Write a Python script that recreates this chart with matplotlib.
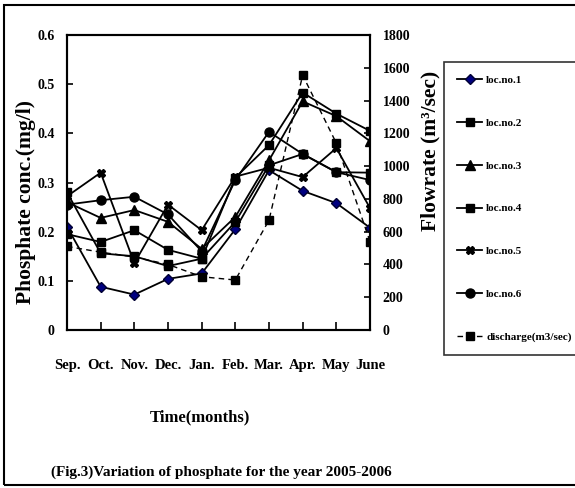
import matplotlib
matplotlib.use("Agg")
import matplotlib.pyplot as plt
from matplotlib.patches import Rectangle

plt.rcParams['font.family'] = 'Liberation Serif'
plt.rcParams['font.weight'] = 'bold'

# months on the x axis
months = ['Sep.', 'Oct.', 'Nov.', 'Dec.', 'Jan.', 'Feb.', 'Mar.', 'Apr.', 'May', 'June']

# phosphate (mg/l) at each location
loc1 = [0.210, 0.088, 0.072, 0.104, 0.115, 0.205, 0.325, 0.283, 0.258, 0.208]
loc2 = [0.195, 0.179, 0.203, 0.163, 0.145, 0.220, 0.335, 0.358, 0.321, 0.320]
loc3 = [0.260, 0.228, 0.244, 0.220, 0.165, 0.230, 0.345, 0.465, 0.435, 0.384]
loc4 = [0.280, 0.156, 0.150, 0.130, 0.145, 0.310, 0.376, 0.483, 0.440, 0.405]
loc5 = [0.272, 0.320, 0.136, 0.255, 0.203, 0.312, 0.330, 0.311, 0.370, 0.248]
loc6 = [0.255, 0.264, 0.271, 0.235, 0.160, 0.305, 0.403, 0.358, 0.321, 0.305]

# river discharge (m3/sec), right axis
discharge = [510, 475, 445, 400, 325, 305, 670, 1555, 1140, 540]

x = list(range(len(months)))

fig = plt.figure(figsize=(5.75, 4.88), dpi=100)
ax = fig.add_axes([67/575, 1 - 330/488, 303/575, 295/488])
ax2 = ax.twinx()

lw = 1.3
h1, = ax.plot(x, loc1, color='black', lw=lw, marker='D', ms=5.5,
              mfc='#000080', mec='#000033', label='loc.no.1')
h2, = ax.plot(x, loc2, color='black', lw=lw, marker='s', ms=6, label='loc.no.2')
h3, = ax.plot(x, loc3, color='black', lw=lw, marker='^', ms=6.5, label='loc.no.3')
h4, = ax.plot(x, loc4, color='black', lw=lw, marker='s', ms=6, label='loc.no.4')
h5, = ax.plot(x, loc5, color='black', lw=lw, marker='X', ms=6, label='loc.no.5')
h6, = ax.plot(x, loc6, color='black', lw=lw, marker='o', ms=6.5, label='loc.no.6')
h7, = ax2.plot(x, discharge, color='black', lw=1.0, ls=(0, (4, 3)), marker='s',
               ms=6, label='discharge(m3/sec)')

ax.set_xlim(0, 9)
ax.set_ylim(0, 0.6)
ax2.set_ylim(0, 1800)
ax.set_xticks(x)
ax.set_xticklabels(months, fontsize=10.5)
ax.set_yticks([0, 0.1, 0.2, 0.3, 0.4, 0.5, 0.6])
ax.set_yticklabels(['0', '0.1', '0.2', '0.3', '0.4', '0.5', '0.6'], fontsize=10)
ax2.set_yticks(range(0, 1801, 200))
ax2.set_yticklabels([str(v) for v in range(0, 1801, 200)], fontsize=10)

ax.tick_params(axis='x', direction='in', length=6, width=1.2, pad=21)
ax.tick_params(axis='y', direction='in', length=4, width=1.2, pad=9)
ax2.tick_params(axis='y', direction='in', length=4, width=1.2, pad=9)
for a in (ax, ax2):
    for s in a.spines.values():
        s.set_linewidth(1.5)

# axis titles placed where they sit in the original
fig.text(26/575, 1 - 202/488, 'Phosphate conc.(mg/l)', rotation=90,
         ha='center', va='center', fontsize=15.5)
fig.text(430/575, 1 - 151/488, 'Flowrate (m³/sec)', rotation=90,
         ha='center', va='center', fontsize=15.5)
fig.text(200/575, 1 - 417/488, 'Time(months)', ha='center', va='center', fontsize=12)
fig.text(221/575, 1 - 472/488, '(Fig.3)Variation of phosphate for the year 2005-2006',
         ha='center', va='center', fontsize=11)

leg = fig.legend([h1, h2, h3, h4, h5, h6, h7],
                 ['loc.no.1', 'loc.no.2', 'loc.no.3', 'loc.no.4', 'loc.no.5',
                  'loc.no.6', 'discharge(m3/sec)'],
                 loc='upper left', bbox_to_anchor=(444/575, 1 - 62/488),
                 bbox_transform=fig.transFigure, fontsize=8, frameon=True,
                 fancybox=False, edgecolor='black', borderaxespad=0,
                 labelspacing=2.97, handlelength=2.2, handletextpad=0.4,
                 borderpad=1.2)
leg.get_frame().set_linewidth(1.2)

# outer border of the figure panel
fig.patches.append(Rectangle((4/575, 3/488), 1.0, 1 - 8/488, transform=fig.transFigure,
                             fill=False, lw=1.5, edgecolor='black'))

plt.savefig('out.png', dpi=100)
